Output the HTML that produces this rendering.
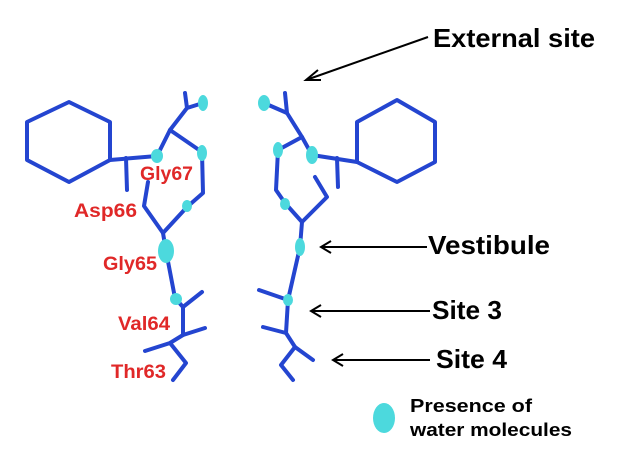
<!DOCTYPE html>
<html><head><style>body{margin:0;background:#fff}svg{display:block}
text{font-family:"Liberation Sans",Arial,sans-serif;font-weight:700}
.r{fill:#e02828;font-size:19px}.k{fill:#000;font-size:26px}.s{fill:#000;font-size:18px}</style></head><body>
<svg width="621" height="456" viewBox="0 0 621 456" xmlns="http://www.w3.org/2000/svg">
<g fill="none" stroke="#2445d0" stroke-width="4" stroke-linejoin="round" stroke-linecap="round">
<polygon points="27,122 69,102 110,122 110,160 69,182 27,160"/>
<polyline points="110,160 157,156"/><polyline points="126,158 127,190"/>
<polyline points="157,156 170,130 187,108 185,93"/><polyline points="187,108 203,103"/>
<polyline points="170,130 202,152 203,193 187,207 163,233"/>
<polyline points="148,182 144,206 163,233 166,251 175,298 183,307 202,292"/>
<polyline points="183,307 183,335 205,328"/>
<polyline points="183,335 170,343 145,351"/>
<polyline points="170,343 186,363 173,380"/>
<polygon points="357,122 397,100 435,122 435,162 397,182 357,162"/>
<polyline points="264,103 287,113 302,137 278,150 276,190 285,203 302,222"/>
<polyline points="285,93 287,113"/>
<polyline points="302,137 312,155 357,162"/><polyline points="337,158 338,187"/>
<polyline points="315,177 327,197 302,222 300,247 288,300 286,333 295,347 313,360"/>
<polyline points="259,290 288,300"/><polyline points="263,327 286,333"/>
<polyline points="295,347 281,365 293,380"/>
</g>
<g fill="#4cd9dd">
<ellipse cx="157" cy="156" rx="6" ry="7"/><ellipse cx="203" cy="103" rx="5" ry="8"/>
<ellipse cx="202" cy="153" rx="5" ry="8"/><ellipse cx="187" cy="206" rx="5" ry="6"/>
<ellipse cx="166" cy="251" rx="8" ry="12"/><ellipse cx="176" cy="299" rx="6" ry="6"/>
<ellipse cx="264" cy="103" rx="6" ry="8"/><ellipse cx="278" cy="150" rx="5" ry="8"/>
<ellipse cx="312" cy="155" rx="6" ry="9"/><ellipse cx="285" cy="204" rx="5" ry="6"/>
<ellipse cx="300" cy="247" rx="5" ry="9"/><ellipse cx="288" cy="300" rx="5" ry="6"/>
<ellipse cx="384" cy="418" rx="11" ry="15"/>
</g>
<g stroke="#000" stroke-width="2" fill="none">
<line x1="428" y1="37" x2="306" y2="80"/><polyline points="318,70 306,80 321,80"/>
<line x1="427" y1="247" x2="321" y2="247"/><polyline points="331,241 321,247 331,253"/>
<line x1="430" y1="311" x2="311" y2="311"/><polyline points="321,305 311,311 321,317"/>
<line x1="430" y1="360" x2="333" y2="360"/><polyline points="343,354 333,360 343,366"/>
</g>
<text class="r" x="140" y="180" textLength="53" lengthAdjust="spacingAndGlyphs">Gly67</text>
<text class="r" x="74" y="217" textLength="63" lengthAdjust="spacingAndGlyphs">Asp66</text>
<text class="r" x="103" y="270" textLength="54" lengthAdjust="spacingAndGlyphs">Gly65</text>
<text class="r" x="118" y="330" textLength="52" lengthAdjust="spacingAndGlyphs">Val64</text>
<text class="r" x="111" y="378" textLength="55" lengthAdjust="spacingAndGlyphs">Thr63</text>
<text class="k" x="433" y="47" textLength="162" lengthAdjust="spacingAndGlyphs">External site</text>
<text class="k" x="428" y="254" textLength="122" lengthAdjust="spacingAndGlyphs">Vestibule</text>
<text class="k" x="432" y="319" textLength="70" lengthAdjust="spacingAndGlyphs">Site 3</text>
<text class="k" x="436" y="368" textLength="71" lengthAdjust="spacingAndGlyphs">Site 4</text>
<text class="s" x="410" y="412" textLength="122" lengthAdjust="spacingAndGlyphs">Presence of</text>
<text class="s" x="410" y="436" textLength="162" lengthAdjust="spacingAndGlyphs">water molecules</text>
</svg>
</body></html>
